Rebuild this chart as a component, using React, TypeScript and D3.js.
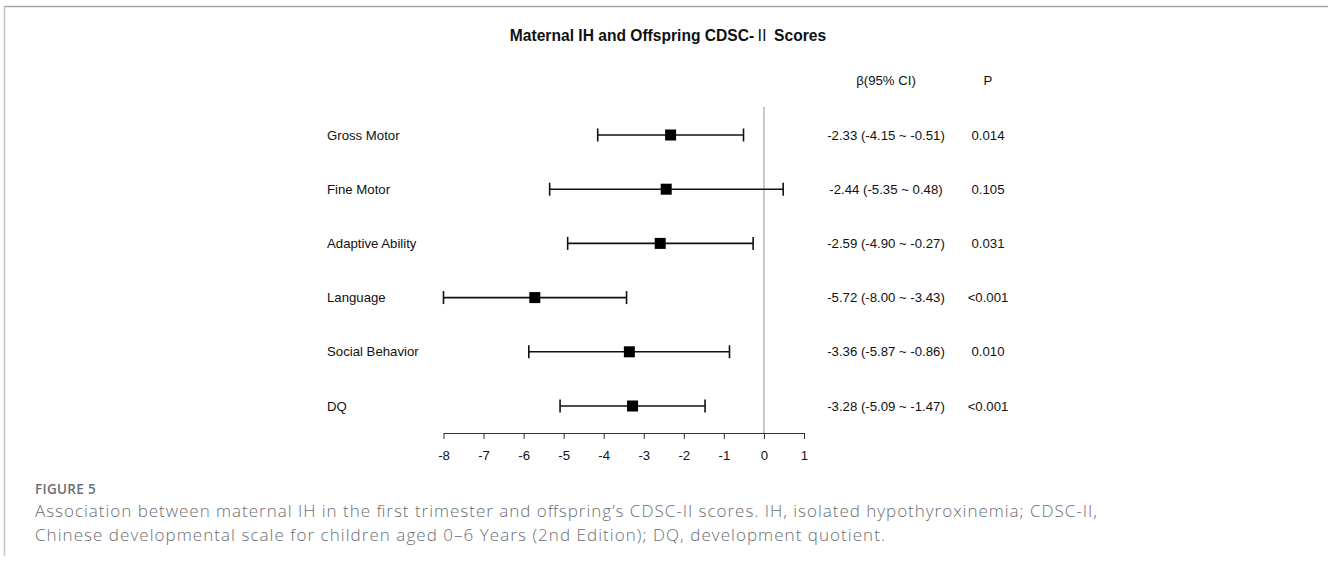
import * as d3 from "d3";
import { useRef, useEffect } from "react";

const labels = ["Gross Motor", "Fine Motor", "Adaptive Ability", "Language", "Social Behavior", "DQ"];
const beta = [-2.33, -2.44, -2.59, -5.72, -3.36, -3.28];
const lower = [-4.15, -5.35, -4.9, -8.0, -5.87, -5.09];
const upper = [-0.51, 0.48, -0.27, -3.43, -0.86, -1.47];
const ciText = [
  "-2.33 (-4.15 ~ -0.51)",
  "-2.44 (-5.35 ~ 0.48)",
  "-2.59 (-4.90 ~ -0.27)",
  "-5.72 (-8.00 ~ -3.43)",
  "-3.36 (-5.87 ~ -0.86)",
  "-3.28 (-5.09 ~ -1.47)",
];
const pText = ["0.014", "0.105", "0.031", "<0.001", "0.010", "<0.001"];
const xTicks = [-8, -7, -6, -5, -4, -3, -2, -1, 0, 1];

const captionLines = [
  "Association between maternal IH in the first trimester and offspring\u2019s CDSC-II scores. IH, isolated hypothyroxinemia; CDSC-II,",
  "Chinese developmental scale for children aged 0\u20136 Years (2nd Edition); DQ, development quotient.",
];
const captionWidths = [1062, 850];

const App = () => {
  const svgRef = useRef<SVGSVGElement | null>(null);

  useEffect(() => {
    const svg = d3.select(svgRef.current);
    svg.selectAll("*").remove();

    const font = "'Liberation Sans', Arial, sans-serif";
    const fs = 13.2;
    const x = d3.scaleLinear().domain([-8, 1]).range([443.5, 804]);
    const y = d3.scalePoint<string>().domain(labels).range([135, 406]);
    const axisY = 433;

    // frame lines
    svg.append("line").attr("x1", 4).attr("x2", 1328).attr("y1", 6.5).attr("y2", 6.5)
      .attr("stroke", "#a3a3ab").attr("stroke-width", 1.5);
    svg.append("line").attr("x1", 4.5).attr("x2", 4.5).attr("y1", 6).attr("y2", 556)
      .attr("stroke", "#c4c4ca").attr("stroke-width", 1.5);

    // title
    const title = svg.append("text").attr("x", 668).attr("y", 41).attr("text-anchor", "middle")
      .attr("font-family", font).attr("font-weight", "bold").attr("font-size", 15.6)
      .attr("fill", "#111");
    title.append("tspan").text("Maternal IH and Offspring CDSC-");
    title.append("tspan").attr("font-family", "'Noto Sans CJK SC', sans-serif")
      .attr("font-weight", "normal").text("\u2161");
    title.append("tspan").text(" Scores");

    // headers
    svg.append("text").attr("x", 886).attr("y", 85).attr("text-anchor", "middle")
      .attr("font-family", font).attr("font-size", fs).attr("fill", "#111").text("\u03b2(95% CI)");
    svg.append("text").attr("x", 988).attr("y", 85).attr("text-anchor", "middle")
      .attr("font-family", font).attr("font-size", fs).attr("fill", "#111").text("P");

    // reference line at zero
    svg.append("line").attr("x1", x(0)).attr("x2", x(0)).attr("y1", 107).attr("y2", axisY)
      .attr("stroke", "#aaaaaa").attr("stroke-width", 1.3);

    // axis
    const axis = svg.append("g").attr("transform", `translate(0,${axisY})`)
      .call(d3.axisBottom(x).tickValues(xTicks).tickSize(6).tickSizeOuter(0)
        .tickFormat((d) => String(d)));
    axis.select(".domain").attr("stroke", "#333").attr("stroke-width", 1);
    axis.selectAll(".tick line").attr("stroke", "#333");
    axis.selectAll(".tick text").attr("font-family", font).attr("font-size", fs)
      .attr("fill", "#111").attr("y", 18);

    const rows = svg.append("g").selectAll("g").data(labels).join("g")
      .attr("transform", (d) => `translate(0,${y(d)})`);

    rows.append("text").attr("x", 327).attr("y", 4.5).attr("font-family", font)
      .attr("font-size", fs).attr("fill", "#111").text((d) => d);

    rows.append("line").attr("x1", (_, i) => x(lower[i])).attr("x2", (_, i) => x(upper[i]))
      .attr("stroke", "#111").attr("stroke-width", 1.6);
    rows.append("line").attr("x1", (_, i) => x(lower[i])).attr("x2", (_, i) => x(lower[i]))
      .attr("y1", -6.5).attr("y2", 6.5).attr("stroke", "#111").attr("stroke-width", 1.6);
    rows.append("line").attr("x1", (_, i) => x(upper[i])).attr("x2", (_, i) => x(upper[i]))
      .attr("y1", -6.5).attr("y2", 6.5).attr("stroke", "#111").attr("stroke-width", 1.6);
    rows.append("rect").attr("x", (_, i) => x(beta[i]) - 5.5).attr("y", -5.5)
      .attr("width", 11).attr("height", 11).attr("fill", "#000");

    rows.append("text").attr("x", 886).attr("y", 4.5).attr("text-anchor", "middle")
      .attr("font-family", font).attr("font-size", fs).attr("fill", "#111")
      .text((_, i) => ciText[i]);
    rows.append("text").attr("x", 988).attr("y", 4.5).attr("text-anchor", "middle")
      .attr("font-family", font).attr("font-size", fs).attr("fill", "#111")
      .text((_, i) => pText[i]);

    // caption
    const capFont = "'Open Sans', 'Noto Sans', sans-serif";
    svg.append("text").attr("x", 35).attr("y", 494).attr("font-family", capFont)
      .attr("font-weight", 600).attr("font-size", 13.5).attr("letter-spacing", 0.3)
      .attr("fill", "#6b6e74").text("FIGURE 5");
    svg.append("g").selectAll("text").data(captionLines).join("text")
      .attr("x", 35).attr("y", (_, i) => 517 + i * 24)
      .attr("font-family", capFont).attr("font-size", 17).attr("font-weight", 300)
      .attr("textLength", (_, i) => captionWidths[i]).attr("lengthAdjust", "spacing")
      .attr("fill", "#6b6e74").text((d) => d);
  }, []);

  return (
    <svg
      ref={svgRef}
      width={1328}
      height={562}
      style={{ position: "absolute", left: 0, top: 0, background: "#fff" }}
    />
  );
};

export default App;
